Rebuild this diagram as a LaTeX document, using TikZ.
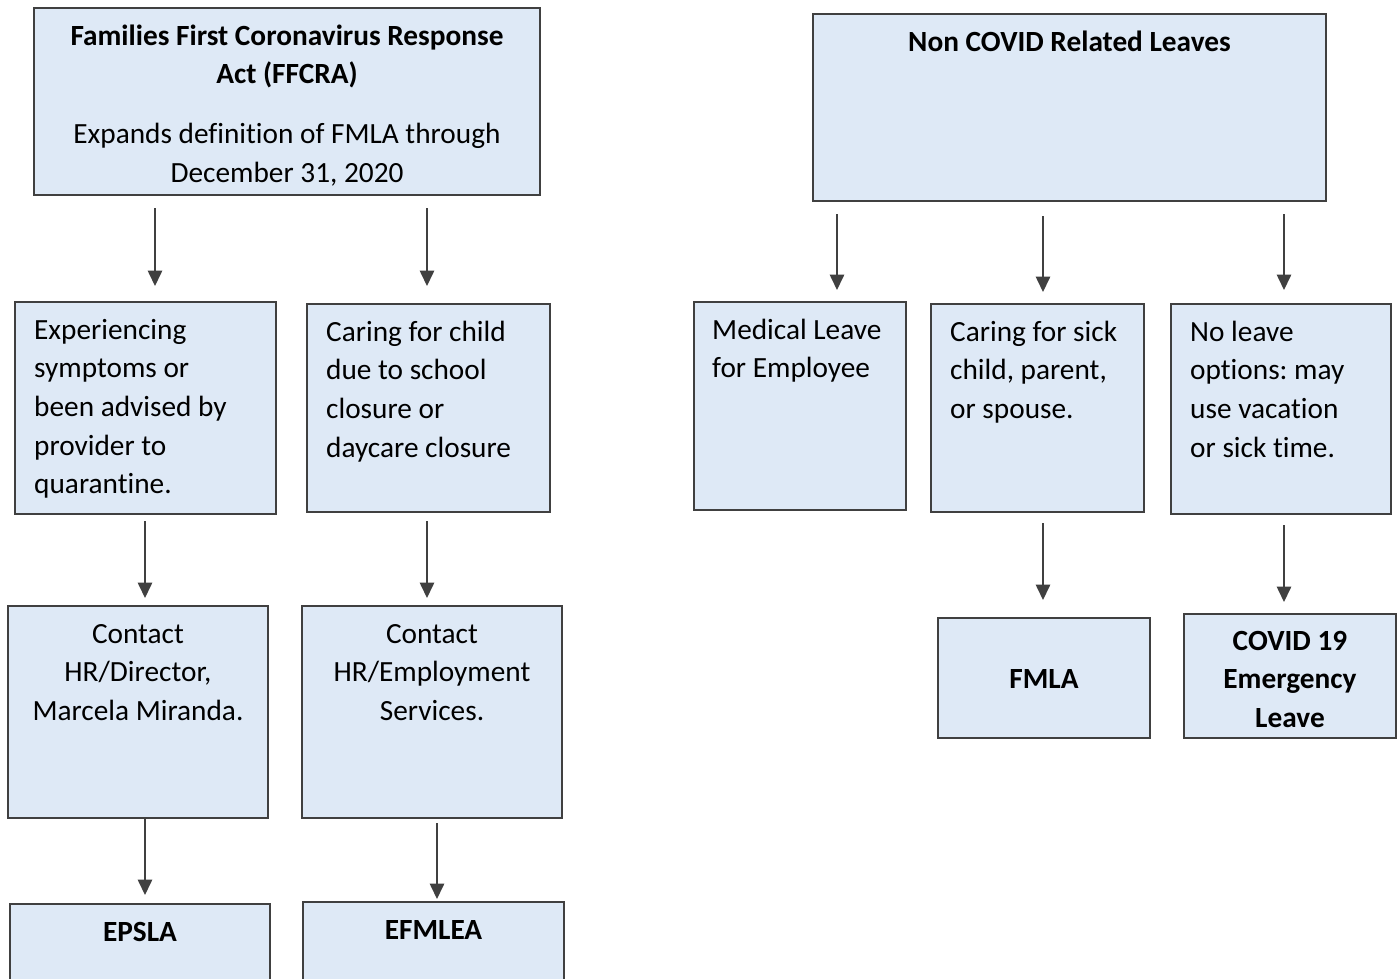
\documentclass[tikz,border=0pt]{standalone}
\usepackage{fontspec}
\setmainfont{Carlito}[Ligatures=NoCommon]
\usetikzlibrary{arrows.meta}
\definecolor{boxfill}{RGB}{222,233,246}
\definecolor{boxline}{RGB}{64,64,64}
\frenchspacing
\begin{document}
\begin{tikzpicture}[x=1pt,y=-1pt,
  box/.style={draw=boxline, line width=2pt, fill=boxfill, rectangle, inner sep=0pt, anchor=north west},
  txt/.style={inner sep=0pt, font=\fontsize{29.3}{38.6}\selectfont},
  ltxt/.style={txt, anchor=north west, align=left},
  ctxt/.style={txt, anchor=north, align=center},
  arr/.style={draw=boxline, line width=1.6pt, -{Triangle[width=14.5pt,length=15.5pt]}}]
\clip (0,0) rectangle (1398,978);
\fill[white] (0,0) rectangle (1398,978);

% boxes
\node[box, minimum width=506pt, minimum height=187pt] (ffcra) at (33,7) {};
\node[box, minimum width=513pt, minimum height=187pt] (nc) at (812,13) {};
\node[box, minimum width=261pt, minimum height=212pt] (a) at (14,301) {};
\node[box, minimum width=243pt, minimum height=208pt] (b) at (306,303) {};
\node[box, minimum width=212pt, minimum height=208pt] (c) at (693,301) {};
\node[box, minimum width=213pt, minimum height=208pt] (d) at (930,303) {};
\node[box, minimum width=220pt, minimum height=210pt] (e) at (1170,303) {};
\node[box, minimum width=260pt, minimum height=212pt] (f) at (7,605) {};
\node[box, minimum width=260pt, minimum height=212pt] (g) at (301,605) {};
\node[box, minimum width=212pt, minimum height=120pt] (h) at (937,617) {};
\node[box, minimum width=212pt, minimum height=124pt] (i) at (1183,613) {};
\node[box, minimum width=260pt, minimum height=110pt] (j) at (9,903) {};
\node[box, minimum width=261pt, minimum height=110pt] (k) at (302,901) {};

% texts
\node[ctxt] (ffcrat) at ([yshift=-11pt]ffcra.north) {\textbf{\strut Families First Coronavirus Response}\\\textbf{Act (FFCRA)}\\[21pt]Expands definition of FMLA through\\December 31, 2020};
\node[ctxt] (nct) at ([yshift=-11pt]nc.north) {\textbf{\strut Non COVID Related Leaves}};
\node[ltxt] (at) at ([xshift=20pt,yshift=-11pt]a.north west) {\strut Experiencing\\symptoms or\\been advised by\\provider to\\quarantine.};
\node[ltxt] (bt) at ([xshift=20pt,yshift=-11pt]b.north west) {\strut Caring for child\\due to school\\closure or\\daycare closure};
\node[ltxt] (ct) at ([xshift=19pt,yshift=-11pt]c.north west) {\strut Medical Leave\\for Employee};
\node[ltxt] (dt) at ([xshift=20pt,yshift=-11pt]d.north west) {\strut Caring for sick\\child, parent,\\or spouse.};
\node[ltxt] (et) at ([xshift=20pt,yshift=-11pt]e.north west) {\strut No leave\\options: may\\use vacation\\or sick time.};
\node[ctxt] (ft) at ([yshift=-11pt]f.north) {\strut Contact\\HR/Director,\\Marcela Miranda.};
\node[ctxt] (gt) at ([yshift=-11pt]g.north) {\strut Contact\\HR/Employment\\Services.};
\node[txt, anchor=base] (ht) at ([yshift=-10pt]h.center) {\textbf{FMLA}};
\node[ctxt] (it) at ([yshift=-10pt]i.north) {\textbf{\strut COVID 19}\\\textbf{Emergency}\\\textbf{Leave}};
\node[ctxt] (jt) at ([yshift=-11pt]j.north) {\textbf{\strut EPSLA}};
\node[ctxt] (kt) at ([yshift=-11pt]k.north) {\textbf{\strut EFMLEA}};

% arrow columns
\coordinate (x155) at (155,0);
\coordinate (x427) at (427,0);
\coordinate (x837) at (837,0);
\coordinate (x1043) at (1043,0);
\coordinate (x1284) at (1284,0);
\coordinate (x145) at (145,0);
\coordinate (x437) at (437,0);

% connectors
\draw[arr, shorten <=12pt, shorten >=15pt] (ffcra.south -| x155) -- (a.north -| x155);
\draw[arr, shorten <=12pt, shorten >=17pt] (ffcra.south -| x427) -- (b.north -| x427);
\draw[arr, shorten <=12pt, shorten >=11pt] (nc.south -| x837) -- (c.north -| x837);
\draw[arr, shorten <=14pt, shorten >=11pt] (nc.south -| x1043) -- (d.north -| x1043);
\draw[arr, shorten <=12pt, shorten >=13pt] (nc.south -| x1284) -- (e.north -| x1284);
\draw[arr, shorten <=6pt, shorten >=7pt] (a.south -| x145) -- (f.north -| x145);
\draw[arr, shorten <=8pt, shorten >=7pt] (b.south -| x427) -- (g.north -| x427);
\draw[arr, shorten <=10pt, shorten >=17pt] (d.south -| x1043) -- (h.north -| x1043);
\draw[arr, shorten <=10pt, shorten >=11pt] (e.south -| x1284) -- (i.north -| x1284);
\draw[arr, shorten >=8pt] (f.south -| x145) -- (j.north -| x145);
\draw[arr, shorten <=4pt, shorten >=2pt] (g.south -| x437) -- (k.north -| x437);
\end{tikzpicture}
\end{document}
